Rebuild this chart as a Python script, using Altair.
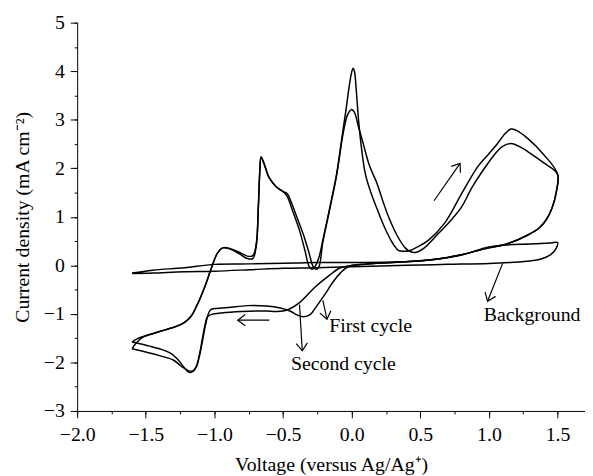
import math
import altair as alt
import pandas as pd

# ---------------- data ----------------
bg_x = [-1.60, -1.45, -1.22, -1.00, -0.74, -0.40, -0.26, 0.00, 0.30, 0.50, 0.65, 0.80, 0.97, 1.12, 1.30, 1.45, 1.50,
        1.49, 1.45, 1.38, 1.30, 1.15, 1.00, 0.70, 0.40, 0.00, -0.26, -0.50, -0.74, -1.00, -1.22, -1.45, -1.60]
bg_y = [-0.16, -0.10, -0.05, 0.02, 0.03, 0.05, 0.06, 0.06, 0.07, 0.09, 0.14, 0.21, 0.36, 0.42, 0.44, 0.46, 0.47,
        0.35, 0.22, 0.13, 0.09, 0.06, 0.04, 0.02, 0.00, -0.03, -0.05, -0.06, -0.09, -0.12, -0.13, -0.16, -0.17]

c1_x = [-1.60, -1.57, -1.52, -1.44, -1.36, -1.28, -1.22, -1.17, -1.12, -1.07, -1.02, -0.98, -0.94, -0.89, -0.82,
        -0.76, -0.72, -0.695, -0.68, -0.67, -0.66, -0.64, -0.60, -0.55, -0.50, -0.47, -0.43, -0.38, -0.34, -0.31,
        -0.29, -0.27, -0.24, -0.21, -0.16, -0.11, -0.07, -0.04, -0.02, 0.00, 0.01, 0.02, 0.035, 0.05, 0.07, 0.10,
        0.14, 0.18, 0.24, 0.30, 0.34, 0.38, 0.42, 0.48, 0.56, 0.68, 0.80, 0.92, 1.00, 1.06, 1.12, 1.16, 1.20, 1.28,
        1.40, 1.50,
        1.49, 1.46, 1.42, 1.37, 1.28, 1.13, 1.00, 0.80, 0.60, 0.30, 0.10, -0.02, -0.08, -0.14, -0.20, -0.26, -0.30,
        -0.35, -0.40, -0.45, -0.52, -0.62, -0.76, -0.90, -1.00, -1.03, -1.05, -1.07, -1.09, -1.11, -1.13, -1.16,
        -1.19, -1.24, -1.30, -1.40, -1.48, -1.60]
c1_y = [-1.72, -1.60, -1.48, -1.40, -1.33, -1.26, -1.18, -1.05, -0.78, -0.44, -0.04, 0.24, 0.36, 0.34, 0.24,
        0.14, 0.14, 0.40, 1.20, 1.90, 2.24, 2.12, 1.80, 1.62, 1.52, 1.42, 1.12, 0.72, 0.30, -0.02,
        -0.08, -0.04, 0.15, 0.52, 1.18, 1.88, 2.65, 3.23, 3.65, 3.98, 4.06, 4.00, 3.55, 3.00, 2.45, 1.88,
        1.50, 1.20, 0.78, 0.45, 0.31, 0.29, 0.30, 0.38, 0.52, 0.88, 1.47, 2.04, 2.30, 2.50, 2.72, 2.81, 2.78, 2.62,
        2.28, 1.88,
        1.50, 1.18, 0.95, 0.78, 0.62, 0.44, 0.36, 0.22, 0.12, 0.06, 0.03, -0.02, -0.15, -0.36, -0.62, -0.86, -1.01,
        -1.06, -1.02, -0.94, -0.88, -0.84, -0.83, -0.87, -0.89, -0.92, -1.05, -1.30, -1.60, -1.88, -2.08, -2.18,
        -2.17, -2.08, -1.95, -1.86, -1.80, -1.72]

c2_x = [-1.60, -1.56, -1.50, -1.44, -1.36, -1.28, -1.22, -1.17, -1.12, -1.07, -1.02, -0.98, -0.94, -0.89, -0.82,
        -0.76, -0.72, -0.695, -0.68, -0.67, -0.66, -0.64, -0.60, -0.55, -0.50, -0.47, -0.44, -0.40, -0.35, -0.31,
        -0.28, -0.26, -0.24, -0.21, -0.16, -0.11, -0.06, -0.03, 0.00, 0.02, 0.05, 0.08, 0.13, 0.18, 0.23, 0.27,
        0.33, 0.39, 0.43, 0.47, 0.53, 0.63, 0.72, 0.80, 0.88, 0.97, 1.04, 1.10, 1.16, 1.22, 1.28, 1.40, 1.50,
        1.49, 1.46, 1.42, 1.37, 1.28, 1.13, 1.00, 0.80, 0.60, 0.30, 0.10, -0.04, -0.09, -0.16, -0.26, -0.32, -0.38,
        -0.47, -0.55, -0.62, -0.80, -0.95, -1.02, -1.05, -1.07, -1.09, -1.11, -1.13, -1.15, -1.18, -1.21, -1.26,
        -1.32, -1.40, -1.48, -1.55, -1.60]
c2_y = [-1.58, -1.51, -1.45, -1.40, -1.33, -1.26, -1.18, -1.05, -0.78, -0.44, -0.04, 0.24, 0.36, 0.35, 0.27,
        0.19, 0.20, 0.45, 1.20, 1.90, 2.22, 2.10, 1.80, 1.62, 1.52, 1.48, 1.30, 1.00, 0.62, 0.25,
        -0.03, -0.08, -0.04, 0.48, 1.15, 1.85, 2.75, 3.10, 3.21, 3.15, 2.85, 2.55, 2.05, 1.72, 1.30, 0.99,
        0.62, 0.36, 0.28, 0.27, 0.36, 0.65, 0.92, 1.20, 1.62, 2.01, 2.28, 2.45, 2.51, 2.45, 2.35, 2.11, 1.88,
        1.50, 1.18, 0.95, 0.78, 0.62, 0.44, 0.36, 0.22, 0.12, 0.06, 0.02, -0.02, -0.06, -0.20, -0.43, -0.60, -0.77,
        -0.92, -0.95, -0.94, -0.95, -0.98, -1.01, -1.06, -1.25, -1.55, -1.85, -2.07, -2.17, -2.21, -2.14, -1.96,
        -1.81, -1.72, -1.66, -1.61, -1.58]

series_names = ["Background", "First cycle", "Second cycle"]

x_ticks = [-2.0, -1.5, -1.0, -0.5, 0.0, 0.5, 1.0, 1.5]
x_minor = [-2.0, -1.75, -1.5, -1.25, -1.0, -0.75, -0.5, -0.25, 0.0, 0.25, 0.5, 0.75, 1.0, 1.25, 1.5]
y_ticks = [-3, -2, -1, 0, 1, 2, 3, 4, 5]
y_minor = [-3, -2.5, -2, -1.5, -1, -0.5, 0, 0.5, 1, 1.5, 2, 2.5, 3, 3.5, 4, 4.5, 5]

# annotation arrows (start -> end, head at end)
arrow_x1 = [0.60, -0.60, 1.10, -0.21, -0.38]
arrow_y1 = [1.33, -1.13, 0.04, -0.72, -0.81]
arrow_x2 = [0.79, -0.83, 0.99, -0.18, -0.36]
arrow_y2 = [2.10, -1.13, -0.74, -1.11, -1.76]

label_text = ["First cycle", "Second cycle", "Background"]
label_x = [-0.163, -0.442, 0.963]
label_y = [-1.37, -2.15, -1.15]

# ---------------- layout / style ----------------
XMIN, XMAX = -2.0, 1.70
YMIN, YMAX = -3.0, 5.0
W, H = 514, 393
FONT = "Liberation Serif"
FS = 20
px_x = W / (XMAX - XMIN)
px_y = H / (YMAX - YMIN)

rows = []
for name, xs_, ys_ in zip(series_names, [bg_x, c1_x, c2_x], [bg_y, c1_y, c2_y]):
    for i, (a, b) in enumerate(zip(xs_, ys_)):
        rows.append({"x": a, "y": b, "series": name, "idx": i})
df = pd.DataFrame(rows)

arr = pd.DataFrame({"x1": arrow_x1, "y1": arrow_y1, "x2": arrow_x2, "y2": arrow_y2})
arr["angle"] = [
    math.degrees(math.atan2((a2 - a1) * px_x, (b2 - b1) * px_y)) % 360
    for a1, b1, a2, b2 in zip(arrow_x1, arrow_y1, arrow_x2, arrow_y2)
]
lab = pd.DataFrame({"text": label_text, "x": label_x, "y": label_y})

xs = alt.Scale(domain=[XMIN, XMAX], nice=False, zero=False)
ys = alt.Scale(domain=[YMIN, YMAX], nice=False, zero=False)

common_axis = dict(
    labelFont=FONT, labelFontSize=FS, labelColor="black",
    titleFont=FONT, titleFontSize=FS, titleFontWeight="normal", titleColor="black",
    domainColor="black", tickColor="black", grid=False,
)

x_axis = alt.Axis(values=x_ticks, format=".1f", orient="bottom", tickSize=7, labelPadding=7,
                  title="Voltage (versus Ag/Ag⁺)", titlePadding=10, domainWidth=1, tickWidth=1,
                  labelFlush=False, **common_axis)
y_axis = alt.Axis(values=y_ticks, format="d", orient="left", tickSize=7, labelPadding=6,
                  title="Current density (mA cm⁻²)", titlePadding=11, domainWidth=1, tickWidth=1,
                  **common_axis)
x_axis_minor = alt.Axis(values=x_minor, orient="bottom", tickSize=3, labels=False, domain=False,
                        title=None, tickColor="black", grid=False, tickWidth=1)
y_axis_minor = alt.Axis(values=y_minor, orient="left", tickSize=3, labels=False, domain=False,
                        title=None, tickColor="black", grid=False, tickWidth=1)

lines = alt.Chart(df).mark_line(interpolate="catmull-rom", color="black", strokeWidth=1.5).encode(
    x=alt.X("x:Q", scale=xs, axis=x_axis),
    y=alt.Y("y:Q", scale=ys, axis=y_axis),
    detail="series:N",
    order="idx:Q",
)

minor = alt.Chart(df).mark_point(opacity=0).encode(
    x=alt.X("x:Q", scale=xs, axis=x_axis_minor),
    y=alt.Y("y:Q", scale=ys, axis=y_axis_minor),
)

shafts = alt.Chart(arr).mark_rule(color="black", strokeWidth=1.2).encode(
    x=alt.X("x1:Q", scale=xs, axis=None),
    y=alt.Y("y1:Q", scale=ys, axis=None),
    x2="x2:Q",
    y2="y2:Q",
)

heads = alt.Chart(arr).mark_point(
    shape="M-0.6,0.8L0,0L0.6,0.8", filled=False, color="black", strokeWidth=1.2, size=360, opacity=1
).encode(
    x=alt.X("x2:Q", scale=xs, axis=None),
    y=alt.Y("y2:Q", scale=ys, axis=None),
    angle=alt.Angle("angle:Q", scale=None),
)

texts = alt.Chart(lab).mark_text(
    align="left", baseline="alphabetic", font=FONT, fontSize=FS, color="black"
).encode(
    x=alt.X("x:Q", scale=xs, axis=None),
    y=alt.Y("y:Q", scale=ys, axis=None),
    text="text:N",
)

chart = (
    alt.layer(lines, minor, shafts, heads, texts)
    .resolve_axis(x="independent", y="independent")
    .properties(
        width=W, height=H,
        padding={"left": 70, "top": 12, "right": 0, "bottom": 62},
        autosize=alt.AutoSizeParams(type="none"),
        background="white",
    )
    .configure_view(stroke=None)
)

chart.save("out.html", embed_options={"renderer": "svg", "actions": False})
